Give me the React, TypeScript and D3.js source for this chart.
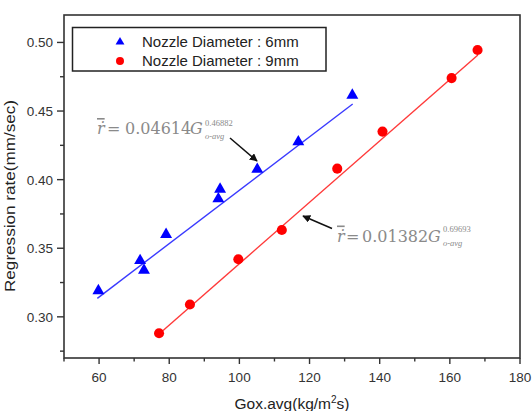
import React from "react";
import * as d3 from "d3";

const blueG = [59.8, 71.7, 72.8, 79.1, 94.0, 94.5, 105.1, 116.8, 132.2];
const blueR = [0.319, 0.341, 0.334, 0.360, 0.386, 0.393, 0.4075, 0.4275, 0.4615];
const redG = [77.1, 85.9, 99.7, 112.1, 127.9, 140.8, 160.5, 167.9];
const redR = [0.288, 0.309, 0.342, 0.3633, 0.408, 0.435, 0.474, 0.4945];
const blueFitG = [59.5, 132.3];
const blueFitR = [0.3135, 0.4551];
const redFitG = [77.1, 168];
const redFitR = [0.2875, 0.4908];
const xTicks = [60, 80, 100, 120, 140, 160, 180];
const xMinor = [50, 70, 90, 110, 130, 150, 170];
const yTicks = [0.30, 0.35, 0.40, 0.45, 0.50];
const yMinor = [0.275, 0.325, 0.375, 0.425, 0.475];
const legendLabels = ["Nozzle Diameter : 6mm", "Nozzle Diameter : 9mm"];

const W = 532, H = 411;
const L = 64, R = 520, T = 15, B = 358;

export default function App() {
  const x = d3.scaleLinear().domain([50, 180]).range([L, R]);
  const y = d3.scaleLinear().domain([0.27, 0.52]).range([B, T]);
  const tri = d3.symbol().type(d3.symbolTriangle).size(62)()!;
  const circ = d3.symbol().type(d3.symbolCircle).size(80)()!;
  const triS = d3.symbol().type(d3.symbolTriangle).size(34)()!;
  const circS = d3.symbol().type(d3.symbolCircle).size(50)()!;
  const line = d3.line<[number, number]>().x(d => x(d[0])).y(d => y(d[1]));
  const blueFit = blueFitG.map((g, i) => [g, blueFitR[i]] as [number, number]);
  const redFit = redFitG.map((g, i) => [g, redFitR[i]] as [number, number]);
  const sans = "'Liberation Sans', Arial, sans-serif";
  const eqColor = "#8a8a8a";
  const serif = "'DejaVu Serif', serif";
  const serif2 = "'Liberation Serif', serif";
  return (
    <svg width={W} height={H} style={{ position: "absolute", left: 0, top: 0, background: "#fff" }}>
      <defs>
        <marker id="ah" viewBox="0 0 10 10" refX="9" refY="5" markerWidth="8" markerHeight="8" orient="auto" markerUnits="userSpaceOnUse">
          <path d="M0,0 L10,5 L0,10 z" fill="#111" />
        </marker>
      </defs>
      <rect x={L} y={T} width={R - L} height={B - T} fill="#fff" stroke="#333" strokeWidth={1.6} />
      {xTicks.map(t => (
        <g key={"xt" + t}>
          <line x1={x(t)} x2={x(t)} y1={B} y2={B + 6} stroke="#333" strokeWidth={1.4} />
          <text x={x(t)} y={381.5} textAnchor="middle" fontFamily={sans} fontSize={13.5} fill="#333">{t}</text>
        </g>
      ))}
      {xMinor.map(t => (
        <line key={"xm" + t} x1={x(t)} x2={x(t)} y1={B} y2={B + 3.5} stroke="#333" strokeWidth={1.4} />
      ))}
      {yTicks.map(t => (
        <g key={"yt" + t}>
          <line x1={L - 7} x2={L} y1={y(t)} y2={y(t)} stroke="#333" strokeWidth={1.4} />
          <text x={53} y={y(t)} dy="0.36em" textAnchor="end" fontFamily={sans} fontSize={13.5} fill="#333">{t.toFixed(2)}</text>
        </g>
      ))}
      {yMinor.map(t => (
        <line key={"ym" + t} x1={L - 4} x2={L} y1={y(t)} y2={y(t)} stroke="#333" strokeWidth={1.4} />
      ))}
      <text x={292} y={409} textAnchor="middle" fontFamily={sans} fontSize={15.5} fill="#222">
        Gox.avg(kg/m<tspan dy={-6} fontSize={10}>2</tspan><tspan dy={6}>s)</tspan>
      </text>
      <text transform={`translate(15,196) rotate(-90)`} textAnchor="middle" fontFamily={sans} fontSize={15.5} fill="#222" textLength={192} lengthAdjust="spacingAndGlyphs">
        Regression rate(mm/sec)
      </text>
      <path d={line(blueFit)!} fill="none" stroke="#3a3aff" strokeWidth={1.4} />
      <path d={line(redFit)!} fill="none" stroke="#ff3a3a" strokeWidth={1.4} />
      {blueG.map((g, i) => (
        <path key={"b" + i} d={tri} transform={`translate(${x(g)},${y(blueR[i])})`} fill="#0000ff" />
      ))}
      {redG.map((g, i) => (
        <path key={"r" + i} d={circ} transform={`translate(${x(g)},${y(redR[i])})`} fill="#ff0000" />
      ))}
      <rect x={72.5} y={27.5} width={253.5} height={43.5} fill="#fff" stroke="#222" strokeWidth={1.5} />
      <path d={triS} transform="translate(120,42)" fill="#0000ff" />
      <path d={circS} transform="translate(120,61)" fill="#ff0000" />
      {legendLabels.map((lab, i) => (
        <text key={lab} x={142} y={42 + i * 19} dy="0.35em" fontFamily={sans} fontSize={15} fill="#222">{lab}</text>
      ))}
      <g fill={eqColor}>
        <text x={97} y={134} fontFamily={serif} fontSize={16} fontStyle="italic" textDecoration="overline">r&#x307;</text>
        <text x={107} y={134} fontFamily={serif} fontSize={16}>=</text>
        <text x={125} y={134} fontFamily={serif} fontSize={16}>0.04614</text>
        <text x={190} y={134} fontFamily={serif} fontSize={16} fontStyle="italic">G</text>
        <text x={205} y={126} fontFamily={serif2} fontSize={8.5}>0.46882</text>
        <text x={205} y={139} fontFamily={serif2} fontSize={8.5} fontStyle="italic">o-avg</text>
      </g>
      <line x1={230} y1={138} x2={257} y2={161} stroke="#111" strokeWidth={1.5} markerEnd="url(#ah)" />
      <g fill={eqColor}>
        <text x={337} y={241.5} fontFamily={serif} fontSize={16} fontStyle="italic" textDecoration="overline">r&#x307;</text>
        <text x={346} y={241.5} fontFamily={serif} fontSize={16}>=</text>
        <text x={362} y={241.5} fontFamily={serif} fontSize={16}>0.01382</text>
        <text x={428} y={241.5} fontFamily={serif} fontSize={16} fontStyle="italic">G</text>
        <text x={443} y={232} fontFamily={serif2} fontSize={8.5}>0.69693</text>
        <text x={443} y={246} fontFamily={serif2} fontSize={8.5} fontStyle="italic">o-avg</text>
      </g>
      <line x1={332} y1={228.5} x2={303} y2={216} stroke="#111" strokeWidth={1.5} markerEnd="url(#ah)" />
    </svg>
  );
}
